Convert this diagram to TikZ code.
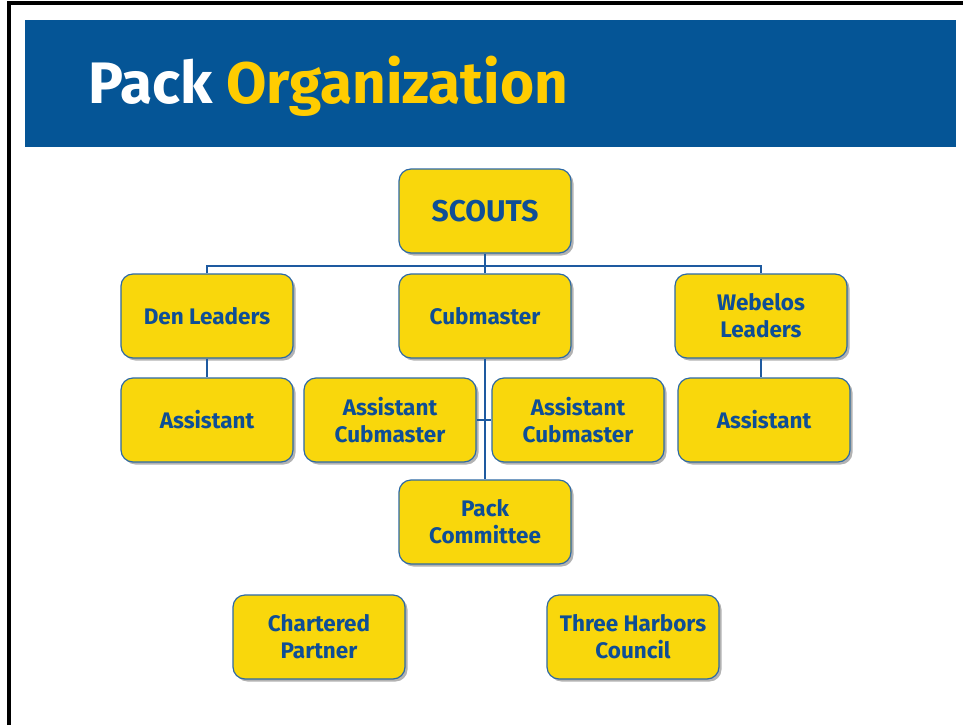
\documentclass[tikz,border=0pt]{standalone}
\usepackage{fontspec}
\setmainfont{Fira Sans}
\usetikzlibrary{shadows}
\definecolor{banblue}{RGB}{5,85,150}
\definecolor{titleyellow}{RGB}{255,204,0}
\definecolor{boxyellow}{RGB}{249,215,12}
\definecolor{boxline}{RGB}{45,105,165}
\definecolor{boxtext}{RGB}{14,78,150}
\definecolor{linkblue}{RGB}{30,90,160}
\tikzset{font=\bfseries}
\tikzset{post/.style={draw=boxline,line width=1.2pt,fill=boxyellow,rounded corners=12pt,
  minimum width=172pt,minimum height=84pt,align=center,text=boxtext,
  font=\bfseries\fontsize{22.5}{27}\selectfont,
  drop shadow={shadow xshift=2.5pt,shadow yshift=-2.5pt,fill=black,opacity=0.3}}}
\tikzset{link/.style={draw=linkblue,line width=2.5pt}}

\begin{document}
\begin{tikzpicture}[x=1pt,y=-1pt]
\useasboundingbox (0,0) rectangle (963,725);
\draw[line width=4pt] (9,725)--(9,3)--(963,3);
\fill[banblue] (25,20) rectangle (956,147);
\node[anchor=base west,inner sep=0pt,font=\bfseries\fontsize{58.5}{66}\selectfont] (title) at (88,103)
 {\textcolor{white}{Pack} \textcolor{titleyellow}{Organization}};
\node[post,font=\bfseries\fontsize{30}{34}\selectfont] (scouts) at (485,211) {SCOUTS};
\node[post] (den) at (207,316) {Den Leaders};
\node[post] (cub) at (485,316) {Cubmaster};
\node[post] (web) at (761,316) {Webelos\\Leaders};
\node[post] (asl) at (207,420) {Assistant};
\node[post] (acl) at (390,420) {Assistant\\Cubmaster};
\node[post] (acr) at (578,420) {Assistant\\Cubmaster};
\node[post] (asr) at (764,420) {Assistant};
\node[post] (pack) at (485,522) {Pack\\Committee};
\node[post] (chart) at (319,637) {Chartered\\Partner};
\node[post] (council) at (633,637) {Three Harbors\\Council};
\coordinate (bar) at (485,266);
\draw[link] (scouts.south) -- (bar);
\draw[link] (den.north) |- (bar) -| (web.north);
\draw[link] (bar) -- (cub.north);
\draw[link] (den.south) -- (asl.north);
\draw[link] (web.south) -- (web.south |- asr.north);
\draw[link] (cub.south) -- (pack.north);
\draw[link] (acl.east) -- (acr.west);
\end{tikzpicture}
\end{document}
